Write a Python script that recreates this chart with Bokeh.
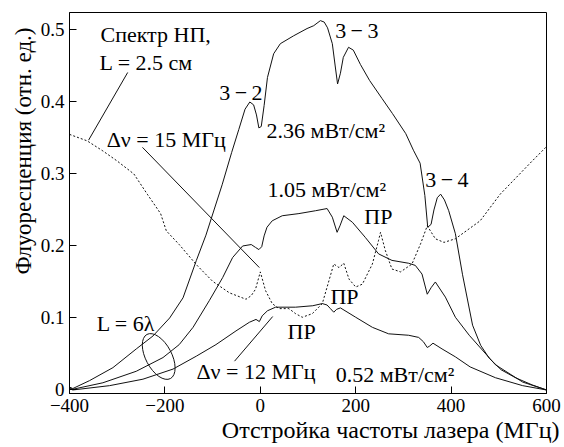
import math
from bokeh.plotting import figure
from bokeh.models import Range1d, Label, FixedTicker, Title
from bokeh.embed import file_html
from bokeh.resources import INLINE

# ---- data ----
x_top = [-400, -393, -358, -309, -260, -225, -190, -162, -134, -114, -97, -80, -60, -45, -32, -22,
         -14, -8, -3, 2, 8, 15, 28, 42, 70, 98, 112, 126, 134, 141, 151, 157, 162, 168, 174, 185,
         195, 210, 229, 255, 277, 305, 321, 335, 345, 351, 358, 364, 371, 378, 386, 395, 409, 424,
         445, 462, 480, 505, 535, 570, 600]
y_top = [0.004, 0.002, 0.013, 0.031, 0.057, 0.075, 0.100, 0.128, 0.180, 0.215, 0.250, 0.285, 0.330,
         0.362, 0.390, 0.400, 0.396, 0.382, 0.364, 0.366, 0.395, 0.434, 0.467, 0.481, 0.492, 0.502,
         0.506, 0.513, 0.511, 0.503, 0.481, 0.450, 0.425, 0.440, 0.462, 0.476, 0.472, 0.452, 0.430,
         0.405, 0.384, 0.356, 0.333, 0.315, 0.270, 0.226, 0.230, 0.250, 0.267, 0.272, 0.264, 0.249,
         0.217, 0.160, 0.090, 0.062, 0.044, 0.028, 0.017, 0.007, 0.0]

x_mid = [-400, -393, -330, -260, -204, -170, -141, -107, -79, -58, -37, -19, -10, -3, 3, 8, 14, 25,
         46, 81, 116, 140, 151, 161, 167, 175, 193, 220, 248, 276, 311, 325, 339, 350, 358, 367,
         388, 409, 438, 493, 550, 600]
y_mid = [0.003, 0.001, 0.010, 0.026, 0.045, 0.063, 0.087, 0.124, 0.156, 0.184, 0.200, 0.202, 0.198,
         0.195, 0.199, 0.214, 0.226, 0.235, 0.242, 0.245, 0.249, 0.252, 0.240, 0.219, 0.228, 0.242,
         0.233, 0.212, 0.189, 0.180, 0.176, 0.173, 0.161, 0.133, 0.142, 0.150, 0.129, 0.101, 0.076,
         0.035, 0.011, 0.0]

x_low = [-400, -393, -316, -246, -183, -134, -93, -51, -23, -9, -2, 4, 15, 32, 74, 110, 130, 140,
         147, 154, 160, 168, 200, 235, 269, 311, 332, 342, 350, 355, 362, 381, 409, 440, 493, 550,
         600]
y_low = [0.002, 0.0, 0.006, 0.015, 0.029, 0.047, 0.063, 0.082, 0.094, 0.098, 0.095, 0.103, 0.110,
         0.115, 0.115, 0.117, 0.120, 0.118, 0.113, 0.108, 0.112, 0.114, 0.101, 0.087, 0.078, 0.076,
         0.073, 0.067, 0.059, 0.061, 0.065, 0.057, 0.046, 0.032, 0.017, 0.006, 0.0]

x_np = [-400, -363, -330, -300, -265, -237, -209, -197, -170, -134, -100, -65, -30, -19, -10, 0,
        11, 25, 39, 60, 74, 88, 109, 130, 144, 154, 165, 175, 186, 200, 214, 235, 248, 252, 262,
        276, 294, 318, 336, 350, 367, 385, 409, 461, 503, 535, 570, 600]
y_np = [0.355, 0.346, 0.332, 0.318, 0.300, 0.272, 0.245, 0.221, 0.202, 0.174, 0.151, 0.135, 0.126,
        0.131, 0.140, 0.164, 0.138, 0.120, 0.113, 0.113, 0.106, 0.101, 0.106, 0.120, 0.152, 0.175,
        0.170, 0.176, 0.154, 0.143, 0.147, 0.175, 0.208, 0.219, 0.194, 0.168, 0.164, 0.175, 0.203,
        0.228, 0.210, 0.205, 0.210, 0.235, 0.272, 0.294, 0.318, 0.338]

x_ticks = [-400, -200, 0, 200, 400, 600]
x_tick_labels = ["\u2212400", "\u2212200", "0", "200", "400", "600"]
y_ticks = [0, 0.1, 0.2, 0.3, 0.4, 0.5]
y_tick_labels = ["0", "0.1", "0.2", "0.3", "0.4", "0.5"]

x_title = "Отстройка частоты лазера (МГц)"
y_title = "Флуоресценция (отн. ед.)"

# annotations: (text, x, y) in data units, left-aligned on baseline
notes = [
    ("Спектр НП,", -335, 0.484),
    ("L = 2.5 см", -337, 0.445),
    ("Δν = 15 МГц", -322, 0.338),
    ("3\u2009\u2212\u20092", -86, 0.403),
    ("2.36 мВт/см²", 13, 0.351),
    ("3\u2009\u2212\u20093", 157, 0.490),
    ("1.05 мВт/см²", 15, 0.269),
    ("ПР", 218, 0.231),
    ("3\u2009\u2212\u20094", 346, 0.283),
    ("ПР", 147, 0.120),
    ("ПР", 57, 0.0715),
    ("L = 6λ", -343, 0.083),
    ("Δν = 12 МГц", -134, 0.016),
    ("0.52 мВт/см²", 158, 0.012),
]
leaders = [
    ([-278, -360], [0.441, 0.347]),
    ([-247, -2], [0.337, 0.170]),
    ([-54, 26], [0.040, 0.102]),
]
ring_x, ring_y = [-213], [0.0465]

FONT = "Liberation Serif"

p = figure(width=564, height=447, output_backend="svg", toolbar_location=None,
           x_range=Range1d(-400, 600), y_range=Range1d(-0.0049, 0.5243),
           min_border_left=69, min_border_right=18, min_border_top=12, min_border_bottom=54)
p.grid.visible = False
p.outline_line_color = "black"
p.outline_line_width = 1
p.background_fill_color = "white"
p.border_fill_color = "white"

for ax, ticks, labs in ((p.xaxis[0], x_ticks, x_tick_labels), (p.yaxis[0], y_ticks, y_tick_labels)):
    ax.ticker = FixedTicker(ticks=ticks)
    ax.major_label_overrides = {t: l for t, l in zip(ticks, labs)}
    ax.axis_line_color = "black"
    ax.major_tick_in = 7
    ax.major_tick_out = 0
    ax.major_tick_line_color = "black"
    ax.minor_tick_line_color = None
    ax.major_label_text_font = FONT
    ax.major_label_text_font_size = "19px"
    ax.major_label_text_color = "black"
    ax.major_label_standoff = 5

LC = "#111111"
p.line(x_top, y_top, line_color=LC, line_width=1)
p.line(x_mid, y_mid, line_color=LC, line_width=1)
p.line(x_low, y_low, line_color=LC, line_width=1)
p.line(x_np, y_np, line_color=LC, line_width=1, line_dash="2 2")
for lx, ly in leaders:
    p.line(lx, ly, line_color=LC, line_width=1)
p.ellipse(ring_x, ring_y, width=50, height=26, angle=-62 * math.pi / 180,
          width_units="screen", height_units="screen", fill_color=None, line_color=LC, line_width=1)

for t, x, y in notes:
    p.add_layout(Label(x=x, y=y, y_offset=7, text=t, text_font=FONT, text_font_size="22px",
                       text_color="black", text_align="left", text_baseline="alphabetic"))

xt = Title(text=x_title, align="right", offset=-13, standoff=0,
           text_font=FONT, text_font_size="24px", text_font_style="normal", text_color="black")
p.add_layout(xt, "below")
yt = Title(text=y_title, align="right", offset=15, standoff=4,
           text_font=FONT, text_font_size="23px", text_font_style="normal", text_color="black")
p.add_layout(yt, "left")

open("out.html", "w").write(file_html(p, INLINE))
